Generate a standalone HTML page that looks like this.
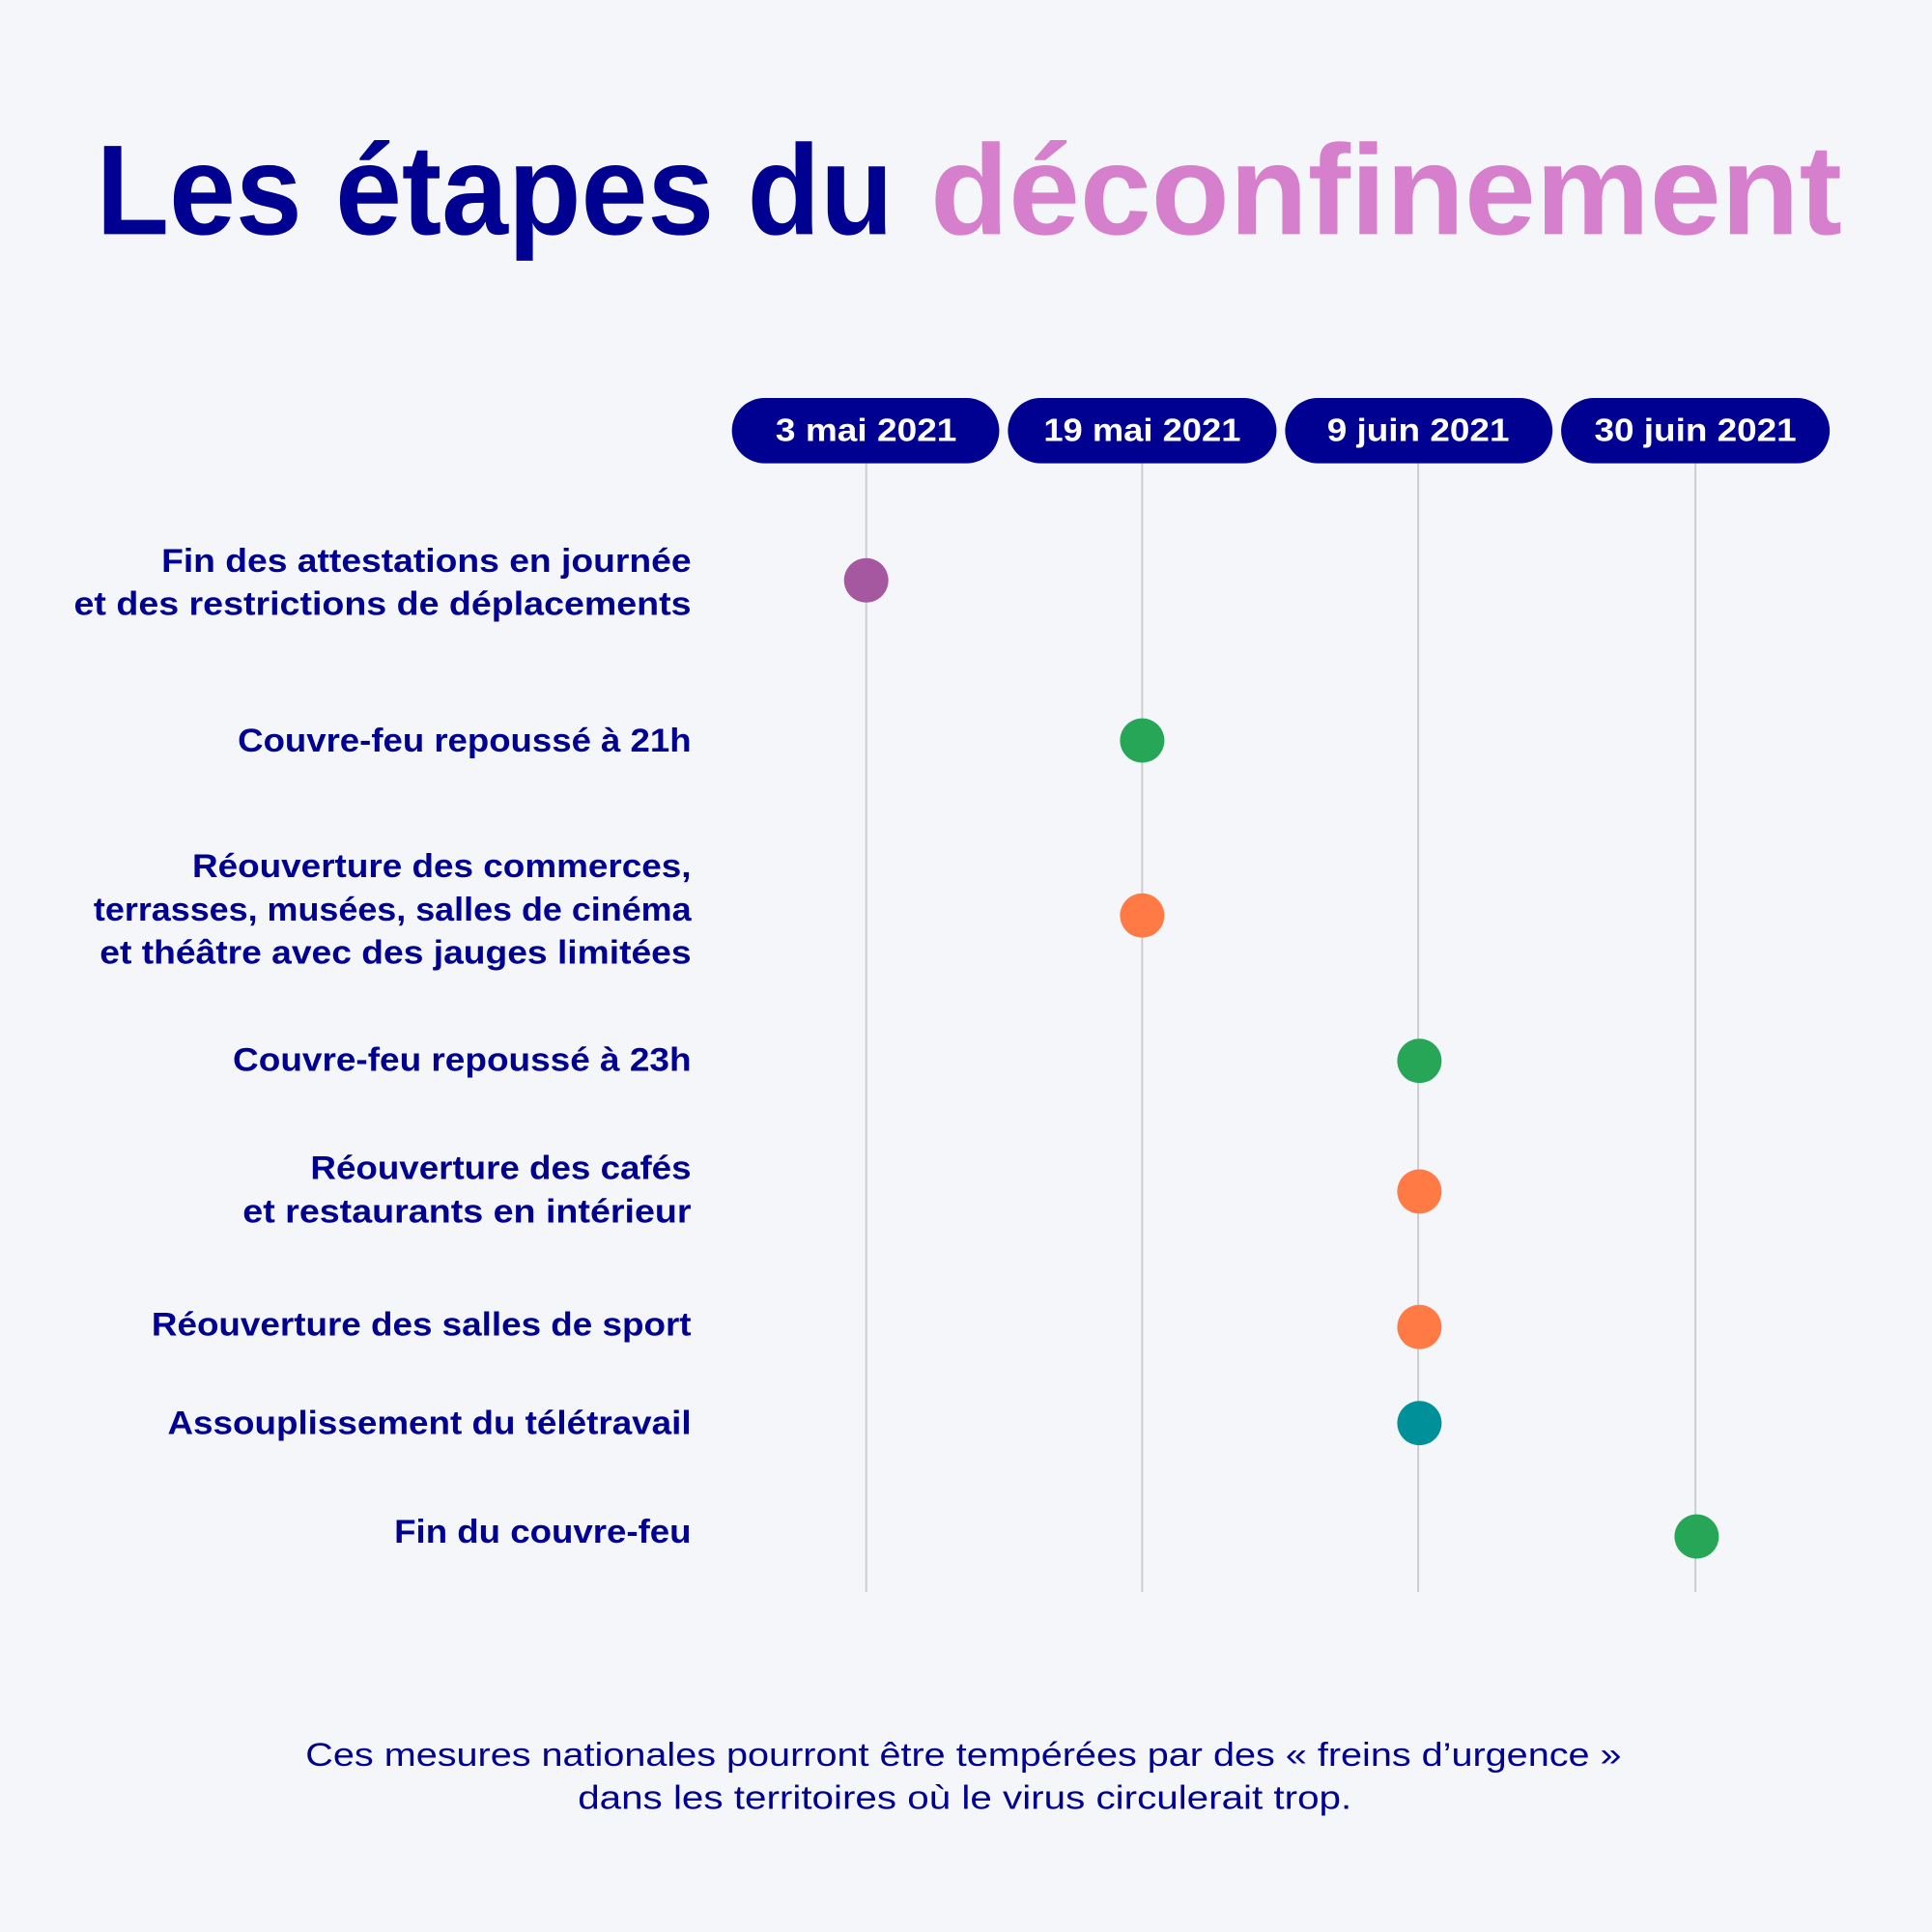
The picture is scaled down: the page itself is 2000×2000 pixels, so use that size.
<!DOCTYPE html>
<html><head><meta charset="utf-8"><style>
html,body{margin:0;padding:0;background:#F5F6FA;}
svg{display:block;}
text{font-family:"Liberation Sans",sans-serif;}
</style></head><body>
<svg width="2000" height="2000" viewBox="0 0 1568 1568" xmlns="http://www.w3.org/2000/svg">
<rect width="1568" height="1568" fill="#F5F6FA"/>
<text x="78" y="190" font-size="104" font-weight="bold" textLength="647" lengthAdjust="spacingAndGlyphs" fill="#000091">Les étapes du</text>
<text x="755" y="190" font-size="104" font-weight="bold" textLength="740" lengthAdjust="spacingAndGlyphs" fill="#D67FCC">déconfinement</text>
<g stroke="#CCCCCC" stroke-width="1.5">
<line x1="703" y1="376" x2="703" y2="1292"/>
<line x1="927" y1="376" x2="927" y2="1292"/>
<line x1="1151" y1="376" x2="1151" y2="1292"/>
<line x1="1376" y1="376" x2="1376" y2="1292"/>
</g>
<g fill="#000091">
<rect x="594" y="323" width="217" height="53" rx="26.5"/>
<rect x="818" y="323" width="218" height="53" rx="26.5"/>
<rect x="1043" y="323" width="217" height="53" rx="26.5"/>
<rect x="1267" y="323" width="218" height="53" rx="26.5"/>
</g>
<g fill="#fff" font-size="26" font-weight="bold" text-anchor="middle">
<text x="703" y="358" textLength="147" lengthAdjust="spacingAndGlyphs">3 mai 2021</text>
<text x="927" y="358" textLength="160" lengthAdjust="spacingAndGlyphs">19 mai 2021</text>
<text x="1151" y="358" textLength="148" lengthAdjust="spacingAndGlyphs">9 juin 2021</text>
<text x="1376" y="358" textLength="164" lengthAdjust="spacingAndGlyphs">30 juin 2021</text>
</g>
<g fill="#000091" font-size="27" font-weight="bold" text-anchor="end">
<text x="561" y="464" textLength="430" lengthAdjust="spacingAndGlyphs">Fin des attestations en journée</text>
<text x="561" y="499" textLength="501" lengthAdjust="spacingAndGlyphs">et des restrictions de déplacements</text>
<text x="561" y="610" textLength="368" lengthAdjust="spacingAndGlyphs">Couvre-feu repoussé à 21h</text>
<text x="561" y="712" textLength="405" lengthAdjust="spacingAndGlyphs">Réouverture des commerces,</text>
<text x="561" y="747" textLength="485" lengthAdjust="spacingAndGlyphs">terrasses, musées, salles de cinéma</text>
<text x="561" y="782" textLength="480" lengthAdjust="spacingAndGlyphs">et théâtre avec des jauges limitées</text>
<text x="561" y="869" textLength="372" lengthAdjust="spacingAndGlyphs">Couvre-feu repoussé à 23h</text>
<text x="561" y="957" textLength="309" lengthAdjust="spacingAndGlyphs">Réouverture des cafés</text>
<text x="561" y="992" textLength="364" lengthAdjust="spacingAndGlyphs">et restaurants en intérieur</text>
<text x="561" y="1084" textLength="438" lengthAdjust="spacingAndGlyphs">Réouverture des salles de sport</text>
<text x="561" y="1164" textLength="425" lengthAdjust="spacingAndGlyphs">Assouplissement du télétravail</text>
<text x="561" y="1252" textLength="241" lengthAdjust="spacingAndGlyphs">Fin du couvre-feu</text>
</g>
<circle cx="703" cy="471" r="18" fill="#A558A0"/>
<circle cx="927" cy="601" r="18" fill="#27A658"/>
<circle cx="927" cy="743" r="18" fill="#FF7A45"/>
<circle cx="1152" cy="861" r="18" fill="#27A658"/>
<circle cx="1152" cy="967" r="18" fill="#FF7A45"/>
<circle cx="1152" cy="1077" r="18" fill="#FF7A45"/>
<circle cx="1152" cy="1155" r="18" fill="#009099"/>
<circle cx="1377" cy="1247" r="18" fill="#27A658"/>
<g fill="#000091" font-size="27" text-anchor="middle">
<text x="782" y="1433" textLength="1068" lengthAdjust="spacingAndGlyphs">Ces mesures nationales pourront être tempérées par des « freins d’urgence »</text>
<text x="783" y="1468" textLength="628" lengthAdjust="spacingAndGlyphs">dans les territoires où le virus circulerait trop.</text>
</g>
</svg>
</body></html>
